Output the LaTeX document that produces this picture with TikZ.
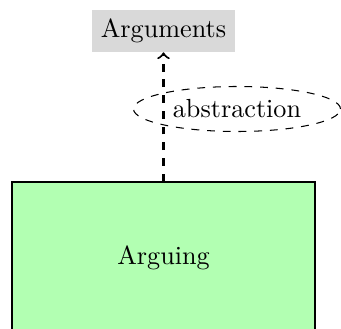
\documentclass[tikz,border=0pt]{standalone}
\usetikzlibrary{shapes.geometric}
\begin{document}
\begin{tikzpicture}[x=0.382pt,y=-0.382pt,
  concept/.style={fill=gray!30, inner sep=3.33pt},
  activity/.style={draw, fill=green!30, minimum width=303*0.382pt, minimum height=152*0.382pt},
  relation/.style={ellipse, draw, dashed, inner sep=0pt, minimum width=207*0.382pt, minimum height=45*0.382pt},
  link/.style={thick, dashed, ->}]
\useasboundingbox (0,0) rectangle (341,329);
\node[concept] (args) at (163.5,31) {Arguments};
\node[activity] (arguing) at (163.5,258) {Arguing};
\draw[link] (arguing.north) -- (args.south);
\node[relation] (abs) at (237,109) {abstraction};
\end{tikzpicture}
\end{document}
